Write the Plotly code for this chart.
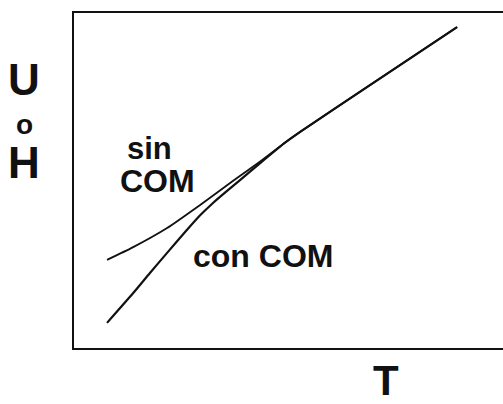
import plotly.graph_objects as go

# Curve data (arbitrary units, T vs U or H)
t_sin = [0.77, 1.38, 2.17, 2.94, 3.71, 4.34, 4.92, 5.27, 6.83, 8.93]
u_sin = [2.63, 3.01, 3.58, 4.27, 4.99, 5.57, 6.13, 6.45, 7.79, 9.58]
t_con = [0.77, 1.38, 1.77, 2.17, 2.63, 2.94, 3.24, 3.54, 3.87, 4.34, 4.92, 5.27, 6.83, 8.93]
u_con = [0.75, 1.64, 2.24, 2.84, 3.52, 3.96, 4.33, 4.66, 5.01, 5.52, 6.13, 6.45, 7.79, 9.58]

W, H = 503, 404
L, R, T, B = 74, 0, 13, 56
pw, ph = W - L - R, H - T - B

def px(x):
    return (x - L) / pw

def py(y):
    return (H - B - y) / ph

FONT = "Liberation Sans, Arial, Helvetica, sans-serif"

fig = go.Figure()
fig.add_trace(go.Scatter(x=t_sin, y=u_sin, mode="lines", line=dict(color="#111", width=1.8, shape="spline", smoothing=0.6), hoverinfo="skip"))
fig.add_trace(go.Scatter(x=t_con, y=u_con, mode="lines", line=dict(color="#111", width=2.2, shape="spline", smoothing=0.6), hoverinfo="skip"))

ann = []
def add(text, x, y, size):
    ann.append(dict(text="<b>%s</b>" % text, x=px(x), y=py(y), xref="paper", yref="paper",
                    showarrow=False, xanchor="center", yanchor="middle",
                    font=dict(family=FONT, size=size, color="#111")))

add("sin", 149, 148, 31)
add("COM", 157, 181, 32)
add("con COM", 263, 256, 32)
add("U", 24, 80, 44)
add("o", 24, 124, 28)
add("H", 24, 162, 44)
add("T", 386, 380, 42)

fig.update_layout(
    width=W, height=H,
    margin=dict(l=L, r=R, t=T, b=B, pad=0),
    paper_bgcolor="white", plot_bgcolor="white",
    showlegend=False,
    annotations=ann,
    xaxis=dict(range=[0, 10], showgrid=False, zeroline=False, showticklabels=False, ticks="",
               showline=True, linecolor="#111", linewidth=2, mirror=True),
    yaxis=dict(range=[0, 10], showgrid=False, zeroline=False, showticklabels=False, ticks="",
               showline=True, linecolor="#111", linewidth=2, mirror=False),
)

fig.write_html("out.html", config={"displayModeBar": False},
               post_script="document.body.style.margin='0';document.body.style.overflow='hidden';")
